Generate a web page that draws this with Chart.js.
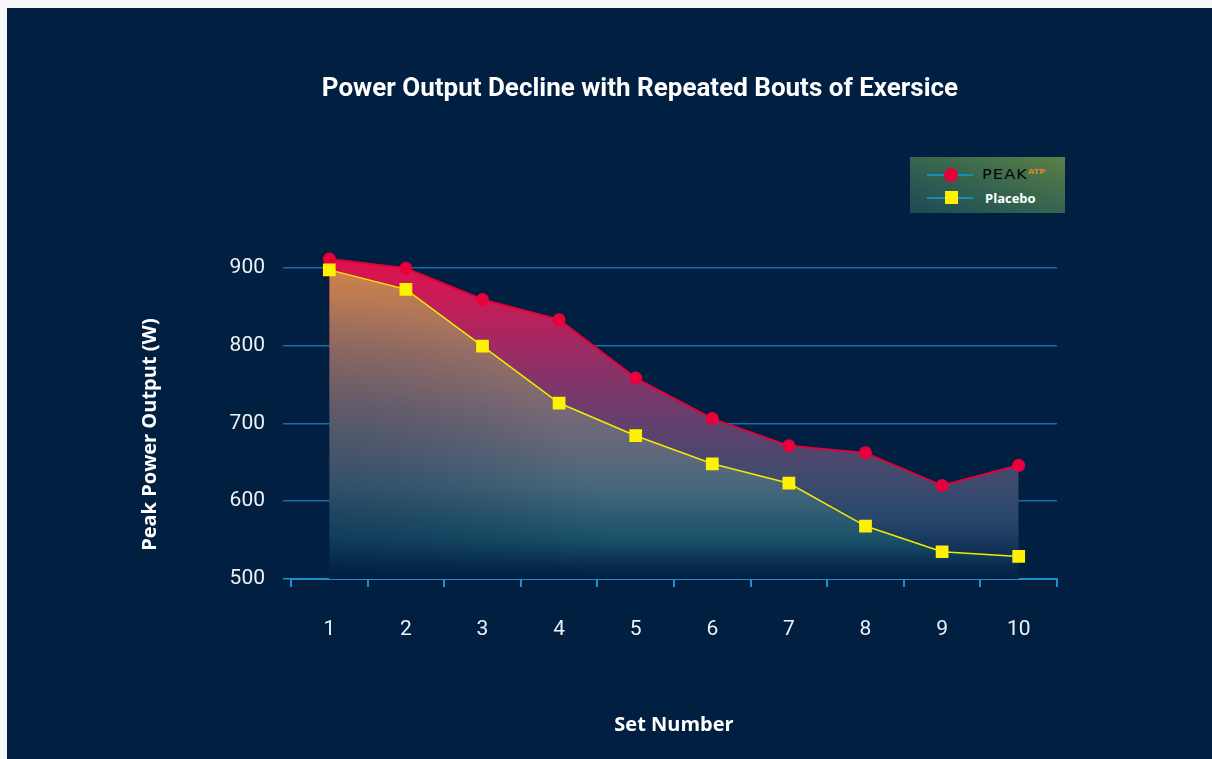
<!DOCTYPE html>
<html>
<head>
<meta charset="utf-8">
<script src="https://cdn.jsdelivr.net/npm/chart.js@4.4.0/dist/chart.umd.min.js"></script>
<style>
html, body { margin: 0; padding: 0; background: #f8f8f8; width: 1212px; height: 759px; overflow: hidden; }
#panel { position: absolute; left: 7px; top: 8px; width: 1205px; height: 751px; background: #001f41; }
#chart { position: absolute; left: 0; top: 0; }
#legend { position: absolute; left: 903px; top: 149px; width: 155px; height: 56px;
  background: linear-gradient(to top right, #1d4957 0%, #36654f 50%, #5b7f46 100%); }
.ln { position: absolute; left: 17px; width: 46px; height: 2px; background: #1b8cb8; }
.dot { position: absolute; left: 34px; width: 14px; height: 14px; border-radius: 50%; background: #e8003d; }
.sq { position: absolute; left: 35px; width: 13px; height: 13px; background: #fff200; }
.logo { position: absolute; left: 72px; top: 9px; font-family: 'DejaVu Sans', sans-serif; font-weight: normal;
  font-size: 14px; letter-spacing: 1px; color: #050505; transform: scaleX(1.15); transform-origin: left; }
.logo sup { font-size: 7px; font-weight: bold; color: #d88a2a; letter-spacing: 0; vertical-align: 5px; }
.lbl { position: absolute; left: 75px; top: 32px; font-family: 'Open Sans', sans-serif; font-weight: bold;
  font-size: 13px; color: #fff; }
</style>
</head>
<body>
<div id="panel">
  <canvas id="chart" width="1205" height="751"></canvas>
  <div id="legend">
    <i class="ln" style="top:17px"></i><i class="dot" style="top:11px"></i>
    <span class="logo">PEAK<sup>ATP</sup></span>
    <i class="ln" style="top:40px"></i><i class="sq" style="top:34px"></i>
    <span class="lbl" id="lbl2"></span>
  </div>
</div>
<script>
const setLabels = ['1', '2', '3', '4', '5', '6', '7', '8', '9', '10'];
const peakAtp = [911, 899, 859, 833, 758, 706, 671, 662, 620, 646];
const placebo = [897, 872, 799, 726, 684, 648, 623, 568, 535, 529];
const yTicks = [500, 600, 700, 800, 900];
const seriesNames = ['PEAK ATP', 'Placebo'];
const yAxisTitle = 'Peak Power Output (W)';

document.getElementById('lbl2').textContent = seriesNames[1];

// vertical colour stops for the two area fills (0 = top of plot, 1 = axis)
const redStops = [[0, 'rgb(232,14,72)'], [0.17, 'rgb(198,28,88)'], [0.38, 'rgb(138,50,104)'],
  [0.53, 'rgb(100,64,110)'], [0.68, 'rgb(68,74,110)'], [0.82, 'rgb(40,72,108)'],
  [0.96, 'rgb(6,40,76)'], [1, 'rgb(0,31,65)']];
const yellowStops = [[0, 'rgb(214,134,70)'], [0.11, 'rgb(200,126,78)'], [0.32, 'rgb(152,110,100)'],
  [0.5, 'rgb(118,104,116)'], [0.62, 'rgb(96,104,122)'], [0.72, 'rgb(72,104,124)'],
  [0.88, 'rgb(26,82,106)'], [0.96, 'rgb(8,44,78)'], [1, 'rgb(0,31,65)']];

const fillCache = {};
function areaFill(chart, key, stops) {
    const ca = chart.chartArea;
    if (!ca) return 'transparent';
    const id = key + ca.top + ca.bottom;
    if (fillCache[id]) return fillCache[id];
    const c = document.createElement('canvas');
    c.width = chart.canvas.width;
    c.height = chart.canvas.height;
    const g = c.getContext('2d');
    const v = g.createLinearGradient(0, ca.top, 0, ca.bottom);
    stops.forEach(s => v.addColorStop(s[0], s[1]));
    g.fillStyle = v;
    g.fillRect(0, 0, c.width, c.height);
    // darker toward the lower left corner
    const d = g.createRadialGradient(ca.left, ca.bottom + 40, 0, ca.left, ca.bottom + 40, 330);
    d.addColorStop(0, 'rgba(0,31,65,0.55)');
    d.addColorStop(1, 'rgba(0,31,65,0)');
    g.fillStyle = d;
    g.fillRect(0, 0, c.width, c.height);
    fillCache[id] = chart.ctx.createPattern(c, 'no-repeat');
    return fillCache[id];
}

const yTitlePlugin = {
    id: 'yTitle',
    afterDraw(chart) {
        const ca = chart.chartArea;
        const c = chart.ctx;
        c.save();
        c.translate(143, (ca.top + ca.bottom) / 2 + 23);
        c.rotate(-Math.PI / 2);
        c.font = 'bold 20px "Open Sans"';
        c.fillStyle = '#ffffff';
        c.textAlign = 'center';
        c.textBaseline = 'middle';
        c.fillText(yAxisTitle, 0, 0);
        c.restore();
    }
};

const ctx = document.getElementById('chart').getContext('2d');
new Chart(ctx, {
    type: 'line',
    data: {
        labels: setLabels,
        datasets: [
            {
                label: seriesNames[1],
                data: placebo,
                borderColor: '#f2ec00',
                borderWidth: 1.5,
                pointStyle: 'rect',
                pointRadius: 9,
                pointBackgroundColor: '#fff200',
                pointBorderWidth: 0,
                fill: 'start',
                backgroundColor: c => areaFill(c.chart, 'y', yellowStops),
                tension: 0
            },
            {
                label: seriesNames[0],
                data: peakAtp,
                borderColor: '#e4003a',
                borderWidth: 2,
                pointStyle: 'circle',
                pointRadius: 6.5,
                pointBackgroundColor: '#e8003d',
                pointBorderWidth: 0,
                fill: 'start',
                backgroundColor: c => areaFill(c.chart, 'r', redStops),
                tension: 0
            }
        ]
    },
    options: {
        responsive: false,
        animation: false,
        layout: { padding: { left: 61, right: 0, top: 0, bottom: 0 } },
        plugins: {
            legend: { display: false },
            tooltip: { enabled: false },
            title: {
                display: true,
                text: 'Power Output Decline with Repeated Bouts of Exersice',
                color: '#ffffff',
                font: { family: 'Roboto', size: 26, weight: 'bold' },
                padding: { top: 66, bottom: 139 }
            }
        },
        scales: {
            x: {
                offset: true,
                grid: { offset: true, drawOnChartArea: false, drawTicks: true, tickLength: 8, color: '#1d8fd0', lineWidth: 2 },
                border: { display: true, color: '#1d8fd0', width: 2 },
                ticks: { color: '#eef2f6', font: { family: 'Roboto', size: 21 }, padding: 30, maxRotation: 0 },
                title: { display: true, text: 'Set Number', color: '#ffffff',
                    font: { family: 'Open Sans', size: 20, weight: 'bold' }, padding: { top: 0, bottom: 22 } },
                afterFit: s => { s.height = 180; }
            },
            y: {
                min: 500,
                max: 930,
                afterBuildTicks: s => { s.ticks = yTicks.map(v => ({ value: v })); },
                grid: {
                    color: c => (c.tick && c.tick.value === 500 ? '#1d8fd0' : 'rgba(28,124,184,0.85)'),
                    lineWidth: 1.5, drawTicks: true, tickLength: 8
                },
                border: { display: false },
                ticks: { color: '#eef2f6', font: { family: 'Roboto', size: 21 }, padding: 18 },
                afterFit: s => { s.width = 223; }
            },
            // empty right-hand scale that only reserves the right margin
            yRight: {
                position: 'right',
                grid: { display: false },
                border: { display: false },
                ticks: { display: false },
                afterFit: s => { s.width = 155; }
            }
        }
    },
    plugins: [yTitlePlugin]
});
</script>
</body>
</html>
